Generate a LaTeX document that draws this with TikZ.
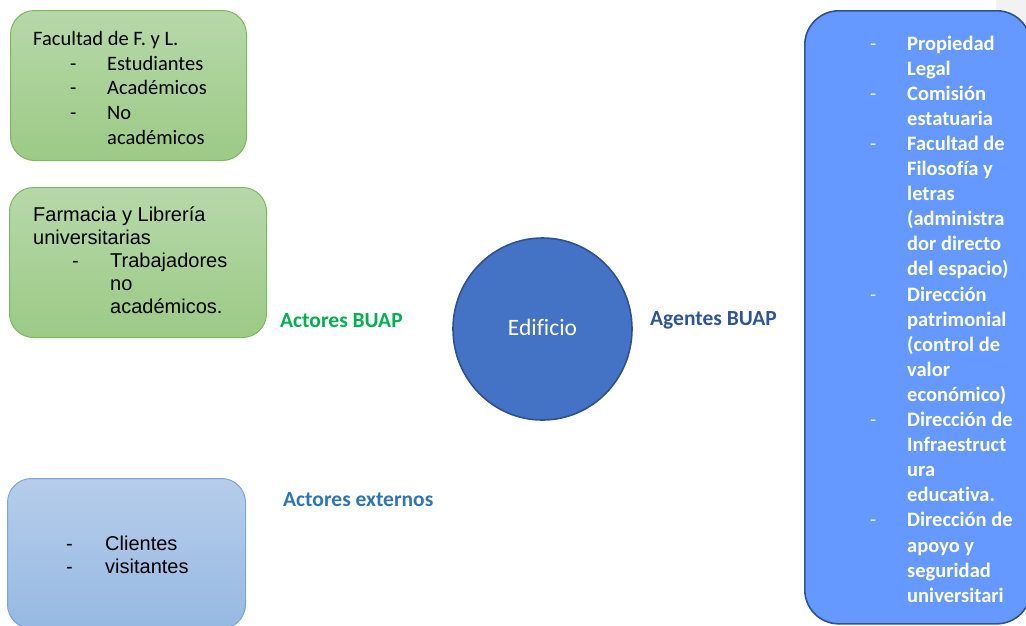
\documentclass[tikz,border=0pt]{standalone}
\usepackage{fontspec}
\setmainfont[Ligatures=NoCommon]{Carlito}
\newfontfamily\arialf{Liberation Sans}
\usetikzlibrary{shapes.geometric}
\definecolor{grntop}{RGB}{183,216,169}
\definecolor{grnbot}{RGB}{156,202,134}
\definecolor{grnborder}{RGB}{128,182,98}
\definecolor{blutop}{RGB}{182,205,235}
\definecolor{blubot}{RGB}{150,185,226}
\definecolor{bluborder}{RGB}{125,165,215}
\definecolor{rfill}{RGB}{102,153,255}
\definecolor{dkblue}{RGB}{47,82,143}
\definecolor{ellfill}{RGB}{68,114,196}
\definecolor{lblgreen}{RGB}{0,176,80}
\definecolor{lbldark}{RGB}{47,85,151}
\definecolor{lblblue}{RGB}{46,117,182}
\definecolor{patch}{RGB}{242,242,242}
\begin{document}
\begin{tikzpicture}[x=1pt,y=-1pt,
  gbox/.style={draw=grnborder, line width=1pt, rounded corners=24pt, top color=grntop, bottom color=grnbot, anchor=north west, inner sep=0pt},
  bbox/.style={draw=bluborder, line width=1pt, rounded corners=24pt, top color=blutop, bottom color=blubot, anchor=north west, inner sep=0pt},
  rbox/.style={draw=dkblue, line width=1.6pt, rounded corners=34pt, fill=rfill, anchor=north west, inner sep=0pt},
  cal/.style={font=\fontsize{20.5}{25}\selectfont, text=black, anchor=base west, inner sep=0pt},
  ari/.style={font=\arialf\fontsize{20}{24}\selectfont, text=black, anchor=base west, inner sep=0pt},
  rtxt/.style={font=\bfseries\fontsize{20.5}{25}\selectfont, text=white, anchor=base west, inner sep=0pt},
  rdash/.style={font=\fontsize{20.5}{25}\selectfont, text=white!85!rfill, anchor=base west, inner sep=0pt},
  lbl/.style={font=\bfseries\fontsize{21.5}{25}\selectfont, anchor=base west, inner sep=0pt}]
\useasboundingbox (0,0) rectangle (1026,625);
\fill[patch] (996,0) rectangle (1026,40);
% boxes
\node[gbox, minimum width=236pt, minimum height=150pt] (fac) at (10,10) {};
\node[gbox, minimum width=257pt, minimum height=150pt] (far) at (9,187) {};
\node[bbox, minimum width=238pt, minimum height=150pt] (ext) at (7,478) {};
\node[rbox, minimum width=226pt, minimum height=613pt] (agt) at (804,10) {};
\node[ellipse, draw=dkblue, line width=1.6pt, fill=ellfill, minimum width=179pt, minimum height=182pt, inner sep=0pt, text=white, font=\fontsize{23.5}{28}\selectfont] (edif) at (542.5,329) {\raisebox{4pt}{Edificio}};
% box 1 text
\node[cal] (f1) at (33,45) {Facultad de F. y L.};
\node[cal] (fd1) at (70,70) {-};
\node[cal] (f2) at (107,70) {Estudiantes};
\node[cal] (fd2) at (70,94.5) {-};
\node[cal] (f3) at (107,94.5) {Académicos};
\node[cal] (fd3) at (70,119) {-};
\node[cal] (f4) at (107,119) {No};
\node[cal] (f5) at (107,144) {académicos};
% box 2 text
\node[ari] (g1) at (33,221.5) {Farmacia y Librería};
\node[ari] (g2) at (33,244.5) {universitarias};
\node[ari] (gd1) at (72,267.5) {-};
\node[ari] (g3) at (110,267.5) {Trabajadores};
\node[ari] (g4) at (110,290.5) {no};
\node[ari] (g5) at (110,313.5) {académicos.};
% box 3 text
\node[ari] (hd1) at (66,550) {-};
\node[ari] (h1) at (105,550) {Clientes};
\node[ari] (hd2) at (66,573) {-};
\node[ari] (h2) at (105,573) {visitantes};
% right box text
\foreach \t [count=\i] in {{Propiedad},{Legal},{Comisión},{estatuaria},{Facultad de},{Filosofía y},{letras},{(administra},{dor directo},{del espacio)},{Dirección},{patrimonial},{(control de},{valor},{económico)},{Dirección de},{Infraestruct},{ura},{educativa.},{Dirección de},{apoyo y},{seguridad},{universitari}}{
  \node[rtxt] (r\i) at (907,{50+25.1*(\i-1)}) {\t};
}
\foreach \i in {1,3,5,11,16,20}{
  \node[rdash] (rd\i) at (870,{50+25.1*(\i-1)}) {-};
}
% labels
\node[lbl, text=lblgreen] (actbuap) at (280,327) {Actores BUAP};
\node[lbl, text=lbldark] (agbuap) at (650,325) {Agentes BUAP};
\node[lbl, text=lblblue] (actext) at (283,506) {Actores externos};
\end{tikzpicture}
\end{document}
